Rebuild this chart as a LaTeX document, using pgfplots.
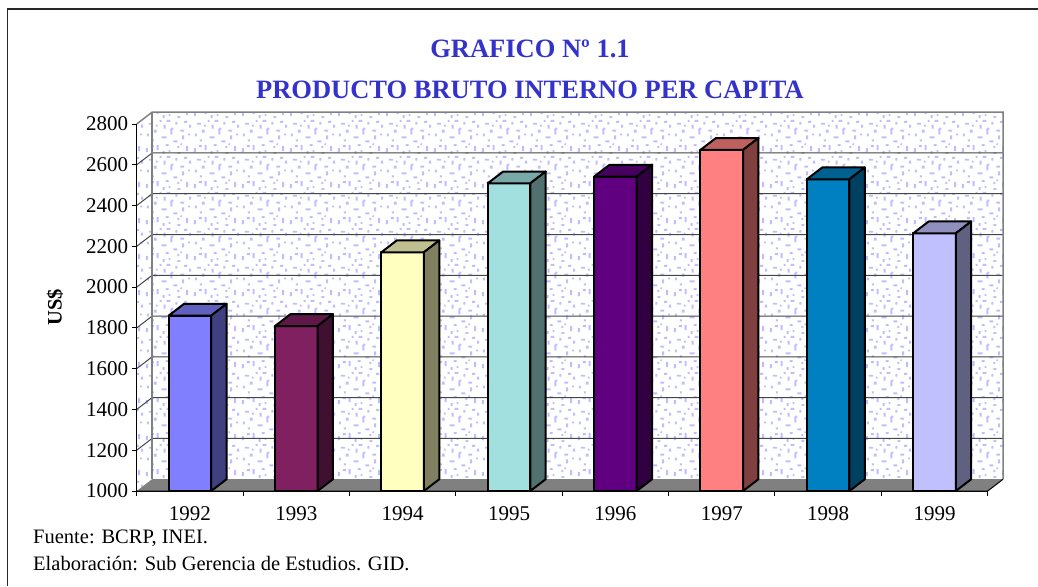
\documentclass[border=0pt]{standalone}
\usepackage{fontspec}
\setmainfont{Liberation Serif}
\usepackage{pgfplots}
\pgfplotsset{compat=1.18}
\usetikzlibrary{patterns}

\newcommand\sr[4]{\pgfpathrectangle{\pgfpoint{#1pt}{#2pt}}{\pgfpoint{#3pt}{#4pt}}}
\pgfdeclarepatternformonly{speckle}{\pgfpointorigin}{\pgfpoint{48pt}{36pt}}{\pgfpoint{48pt}{36pt}}{%
  \sr{2}{2}{2}{4}\sr{5}{30}{4}{2}\sr{8}{13}{2}{2}\sr{10}{22}{3}{3}%
  \sr{13}{4}{2}{5}\sr{16}{33}{2}{2}\sr{18}{16}{5}{2}\sr{20}{26}{2}{4}%
  \sr{22}{8}{3}{2}\sr{25}{2}{2}{2}\sr{27}{20}{2}{6}\sr{30}{12}{4}{2}%
  \sr{32}{30}{2}{3}\sr{34}{6}{2}{2}\sr{37}{23}{4}{2}\sr{39}{15}{2}{4}%
  \sr{41}{32}{3}{2}\sr{43}{3}{2}{5}\sr{45}{19}{2}{2}\sr{3}{18}{2}{3}%
  \sr{7}{7}{3}{2}\sr{12}{28}{2}{2}\sr{23}{33}{4}{2}\sr{34}{0}{3}{2}%
  \sr{46}{27}{2}{3}\sr{28}{25}{2}{2}\sr{19}{0}{2}{3}\sr{37}{9}{2}{2}%
  \pgfusepath{fill}%
}

\definecolor{c92}{RGB}{128,128,255}
\definecolor{c93}{RGB}{128,32,96}
\definecolor{c94}{RGB}{255,255,192}
\definecolor{c95}{RGB}{162,224,224}
\definecolor{c96}{RGB}{96,0,128}
\definecolor{c97}{RGB}{255,128,128}
\definecolor{c98}{RGB}{0,128,192}
\definecolor{c99}{RGB}{192,192,255}
\definecolor{titleblue}{RGB}{51,51,204}
\definecolor{speck}{RGB}{190,190,255}
\definecolor{wallgray}{RGB}{128,128,128}
\definecolor{gridcol}{RGB}{70,70,70}
\definecolor{framecol}{RGB}{40,40,40}

% 3D bar: #1 = category centre, #2 = value, #3 = colour
\newcommand\barthreed[3]{%
  \pgfmathsetmacro\xl{#1-0.2}%
  \pgfmathsetmacro\xr{#1+0.2}%
  \pgfmathsetmacro\xlb{#1-0.2+0.145}%
  \pgfmathsetmacro\xrb{#1+0.2+0.145}%
  \pgfmathsetmacro\vt{#2+58}%
  \edef\doplot{%
    \noexpand\addplot[fill=#3, draw=black, line width=2pt, line join=round]
      coordinates {(\xl,1000) (\xl,#2) (\xr,#2) (\xr,1000)} -- cycle;
    \noexpand\addplot[fill=#3!75!black, draw=black, line width=2pt, line join=round]
      coordinates {(\xl,#2) (\xlb,\vt) (\xrb,\vt) (\xr,#2)} -- cycle;
    \noexpand\addplot[fill=#3!50!black, draw=black, line width=2pt, line join=round]
      coordinates {(\xr,1000) (\xr,#2) (\xrb,\vt) (\xrb,1058)} -- cycle;
  }\doplot
}

\begin{document}
\begin{tikzpicture}[x=1pt,y=1pt]
\path[use as bounding box] (0,0) rectangle (1038,-586);
\draw[line width=1.5pt, framecol] (7.3,-586) -- (7.3,-9) -- (1038,-9);

\begin{axis}[
  at={(136.7pt,-491pt)}, anchor=south west,
  scale only axis, width=851pt, height=367pt,
  xmin=0, xmax=8, ymin=1000, ymax=2800,
  clip=false,
  axis lines=left, axis line style={-, black, line width=1pt},
  tick align=outside, major tick length=5pt,
  tick style={black, line width=1pt},
  ytick={1000,1200,...,2800},
  xtick={0,1,...,8}, xticklabels={},
  extra x ticks={0.5,1.5,2.5,3.5,4.5,5.5,6.5,7.5},
  extra x tick labels={1992,1993,1994,1995,1996,1997,1998,1999},
  extra x tick style={major tick length=0pt},
  xticklabel style={yshift=-12pt},
  tick label style={font=\fontsize{21}{24}\selectfont},
  /pgf/number format/assume math mode=true,
  /pgf/number format/1000 sep={},
]
% walls
\fill[white] (axis cs:0,1000) -- (axis cs:0,2800) -- (axis cs:0.145,2858) -- (axis cs:8.145,2858) -- (axis cs:8.145,1058) -- (axis cs:0.145,1058) -- cycle;
\fill[pattern=speckle, pattern color=speck] (axis cs:0,1000) -- (axis cs:0,2800) -- (axis cs:0.145,2858) -- (axis cs:8.145,2858) -- (axis cs:8.145,1058) -- (axis cs:0.145,1058) -- cycle;
% floor
\fill[wallgray] (axis cs:0,1000) -- (axis cs:8,1000) -- (axis cs:8.145,1058) -- (axis cs:0.145,1058) -- cycle;
% gridlines
\draw[gridcol, line width=1pt] (axis cs:0,1200) -- (axis cs:0.145,1258) -- (axis cs:8.145,1258);
\draw[gridcol, line width=1pt] (axis cs:0,1400) -- (axis cs:0.145,1458) -- (axis cs:8.145,1458);
\draw[gridcol, line width=1pt] (axis cs:0,1600) -- (axis cs:0.145,1658) -- (axis cs:8.145,1658);
\draw[gridcol, line width=1pt] (axis cs:0,1800) -- (axis cs:0.145,1858) -- (axis cs:8.145,1858);
\draw[gridcol, line width=1pt] (axis cs:0,2000) -- (axis cs:0.145,2058) -- (axis cs:8.145,2058);
\draw[gridcol, line width=1pt] (axis cs:0,2200) -- (axis cs:0.145,2258) -- (axis cs:8.145,2258);
\draw[gridcol, line width=1pt] (axis cs:0,2400) -- (axis cs:0.145,2458) -- (axis cs:8.145,2458);
\draw[gridcol, line width=1pt] (axis cs:0,2600) -- (axis cs:0.145,2658) -- (axis cs:8.145,2658);
% wall edges
\draw[wallgray, line width=1.5pt] (axis cs:0,2800) -- (axis cs:0.145,2858) -- (axis cs:8.145,2858) -- (axis cs:8.145,1058);
\draw[wallgray, line width=1.5pt] (axis cs:0.145,2858) -- (axis cs:0.145,1058);

\barthreed{0.5}{1860}{c92}
\barthreed{1.5}{1809}{c93}
\barthreed{2.5}{2171}{c94}
\barthreed{3.5}{2509}{c95}
\barthreed{4.5}{2542}{c96}
\barthreed{5.5}{2673}{c97}
\barthreed{6.5}{2529}{c98}
\barthreed{7.5}{2264}{c99}

\draw[black, line width=1pt] (axis cs:0,1000) -- (axis cs:8,1000) -- (axis cs:8.145,1058);
\draw[black, line width=1pt] (axis cs:0,1000) -- (axis cs:0,2800);
\end{axis}

\node[anchor=base, font=\bfseries\fontsize{26.5}{32}\selectfont, text=titleblue] at (530,-57) {GRAFICO Nº 1.1};
\node[anchor=base, font=\bfseries\fontsize{26.5}{32}\selectfont, text=titleblue] at (530,-98) {PRODUCTO BRUTO INTERNO PER CAPITA};
\node[rotate=90, font=\bfseries\fontsize{20.5}{24}\selectfont] at (55,-307.5) {US\$};
\node[anchor=base west, font=\fontsize{20.5}{24}\selectfont, inner sep=0pt] at (33,-543) {Fuente: BCRP, INEI.};
\node[anchor=base west, font=\fontsize{20.5}{24}\selectfont, inner sep=0pt] at (33,-570) {Elaboración: Sub Gerencia de Estudios. GID.};
\end{tikzpicture}
\end{document}
